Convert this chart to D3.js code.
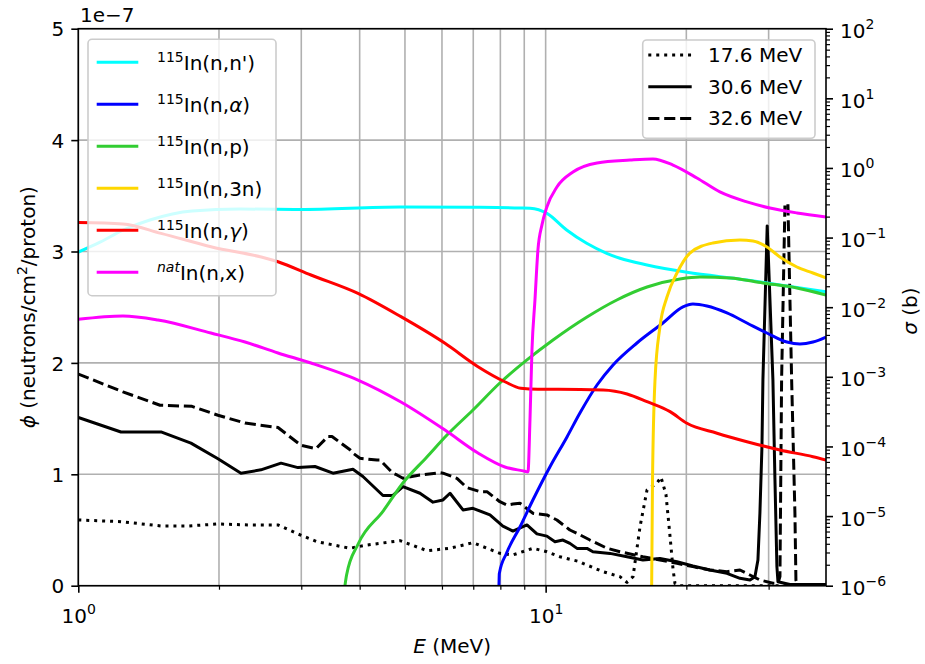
<!DOCTYPE html>
<html>
<head>
<meta charset="utf-8">
<script src="https://cdn.jsdelivr.net/npm/d3@7"></script>
<style>
  body { margin: 0; background: #fff; }
  svg { display: block; }
  text { font-family: "DejaVu Sans", sans-serif; fill: #000; }
</style>
</head>
<body>
<svg id="chart" width="925" height="664"></svg>
<script>
// Neutron flux spectra, [E (MeV), phi in units of 1e-7 neutrons/cm^2/proton]
const flux17_6 = [[1.0,0.59],[1.234,0.575],[1.503,0.536],[1.717,0.536],[1.99,0.554],[2.33,0.545],[2.675,0.545],[2.952,0.464],[3.241,0.395],[3.814,0.336],[4.147,0.365],[4.88,0.404],[5.574,0.314],[6.243,0.336],[6.99,0.386],[7.98,0.291],[8.51,0.276],[9.394,0.336],[10.06,0.305],[10.73,0.26],[11.84,0.215],[12.02,0.2],[13.27,0.126],[14.42,0.081],[14.93,0.03],[15.38,0.081],[15.92,0.53],[16.48,0.86],[17.3,0.92],[17.65,0.975],[18.09,0.82],[18.45,0.45],[18.73,0.15],[18.91,0.02],[19.4,0.0],[39.8,0.0]];

const flux30_6 = [[1.0,1.51],[1.234,1.38],[1.503,1.38],[1.742,1.28],[1.99,1.14],[2.229,1.01],[2.459,1.04],[2.715,1.1],[2.951,1.06],[3.209,1.07],[3.507,1.01],[3.87,1.045],[4.065,0.98],[4.486,0.81],[4.713,0.81],[4.951,0.89],[5.384,0.83],[5.741,0.75],[6.03,0.77],[6.243,0.83],[6.655,0.68],[6.99,0.695],[7.6,0.635],[8.1,0.535],[8.51,0.49],[9.12,0.545],[9.58,0.465],[10.06,0.445],[10.47,0.395],[10.89,0.41],[11.27,0.38],[11.67,0.335],[12.26,0.335],[12.62,0.305],[13.73,0.29],[14.93,0.26],[16.15,0.23],[17.56,0.245],[19.1,0.215],[20.66,0.177],[22.46,0.141],[24.43,0.111],[26.05,0.066],[27.36,0.051],[28.04,0.081],[28.46,0.231],[28.74,0.653],[29.03,1.25],[29.17,1.85],[29.79,3.23],[30.64,1.85],[30.95,0.95],[31.25,0.17],[31.41,0.036],[33.32,0.011],[39.8,0.011]];

const flux32_6 = [[1.0,1.9],[1.246,1.74],[1.496,1.62],[1.751,1.61],[1.99,1.53],[2.274,1.46],[2.675,1.42],[2.996,1.26],[3.225,1.23],[3.421,1.34],[3.49,1.34],[3.814,1.22],[3.87,1.19],[4.006,1.144],[4.356,1.128],[4.421,1.128],[4.713,1.01],[4.806,0.994],[4.951,0.964],[5.384,0.994],[5.942,1.014],[6.03,1.01],[6.334,0.978],[6.46,0.964],[6.785,0.88],[7.235,0.844],[7.489,0.844],[7.98,0.754],[8.265,0.724],[8.51,0.733],[8.811,0.74],[9.394,0.65],[10.06,0.635],[10.57,0.59],[11.27,0.5],[11.67,0.47],[12.44,0.41],[13.53,0.336],[14.42,0.305],[14.93,0.291],[16.15,0.26],[17.56,0.231],[19.1,0.201],[20.66,0.171],[22.46,0.141],[24.43,0.126],[26.05,0.141],[27.36,0.096],[28.74,0.051],[30.64,0.022],[31.41,0.022],[31.72,0.081],[31.98,1.85],[32.51,3.42],[32.99,3.43],[33.6,1.85],[34.15,0.65],[34.32,0.05],[34.6,0.011],[39.8,0.011]];

// Cross sections, [E (MeV), sigma (b)]
const xsInelastic = [[1.0,0.062],[1.113,0.086],[1.246,0.128],[1.423,0.179],[1.752,0.241],[2.218,0.257],[2.982,0.254],[4.88,0.275],[7.06,0.272],[8.81,0.266],[9.26,0.263],[10.06,0.223],[11.09,0.1285],[12.24,0.0827],[13.51,0.0594],[14.42,0.0504],[16.48,0.0404],[20.06,0.0317],[26.96,0.0246],[31.72,0.0208],[39.8,0.0167]];

const xsAlpha = [[7.945,1.0e-6],[7.96,1.5e-6],[8.25,2.95e-6],[8.81,6.97e-6],[9.39,1.7e-5],[10.21,5.07e-5],[11.11,1.37e-4],[11.84,3.02e-4],[12.88,7.63e-4],[13.94,1.48e-3],[15.68,3.06e-3],[17.82,5.93e-3],[19.67,1.01e-2],[20.66,1.11e-2],[22.14,1.04e-2],[24.43,8.26e-3],[26.96,5.93e-3],[29.75,4.26e-3],[32.83,3.16e-3],[35.0,2.96e-3],[37.32,3.16e-3],[39.8,3.73e-3]];

const xsProton = [[3.72,1.0e-6],[3.75,1.42e-6],[3.97,3.97e-6],[4.49,1.18e-5],[4.95,2.99e-5],[5.57,7.05e-5],[6.15,1.46e-4],[6.99,3.34e-4],[7.98,8.15e-4],[9.12,1.75e-3],[10.37,3.38e-3],[12.26,7.23e-3],[14.2,1.27e-2],[16.48,1.95e-2],[19.38,2.54e-2],[21.39,2.71e-2],[24.8,2.63e-2],[29.17,2.23e-2],[34.49,1.89e-2],[39.8,1.5e-2]];

const xs3n = [[16.86,1.0e-6],[16.93,3.3e-5],[17.14,9.0e-4],[17.56,5.2e-3],[18.18,1.4e-2],[19.1,3.1e-2],[20.36,6.0e-2],[22.8,8.35e-2],[26.05,9.23e-2],[27.77,8.93e-2],[29.75,7.33e-2],[31.72,5.26e-2],[34.49,3.78e-2],[37.32,3.1e-2],[39.8,2.63e-2]];

const xsGamma = [[1.0,0.164],[1.246,0.157],[1.503,0.115],[1.922,0.0739],[2.675,0.045],[3.147,0.029],[3.967,0.0158],[4.902,7.31e-3],[6.09,3.03e-3],[7.165,1.4e-3],[8.18,8.5e-4],[8.85,6.84e-4],[9.627,6.62e-4],[10.62,6.62e-4],[13.27,6.47e-4],[14.94,5.67e-4],[16.48,4.39e-4],[18.46,3.16e-4],[20.06,2.15e-4],[23.26,1.55e-4],[26.96,1.17e-4],[31.72,8.89e-5],[37.33,7.12e-5],[39.8,6.39e-5]];

const xsNatural = [[1.0,6.7e-3],[1.246,7.48e-3],[1.481,6.55e-3],[1.922,4.26e-3],[2.274,3.16e-3],[2.675,2.2e-3],[3.147,1.58e-3],[3.967,9.0e-4],[4.902,4.35e-4],[6.09,1.72e-4],[7.165,8.05e-5],[8.18,5.07e-5],[9.03,4.4e-5],[9.166,4.3e-5],[9.257,2.4e-4],[9.348,2.43e-3],[9.487,1.27e-2],[9.627,6.64e-2],[9.82,0.152],[10.06,0.275],[10.57,0.533],[11.44,0.875],[12.88,1.18],[15.15,1.3],[16.97,1.35],[18.73,1.1],[21.07,0.718],[23.6,0.452],[26.96,0.325],[30.19,0.266],[34.49,0.226],[39.8,0.198]];

// Axis ticks
const xMajorTicks = [1, 10];
const xMinorTicks = [2, 3, 4, 5, 6, 7, 8, 9, 20, 30];
const fluxTicks = [0, 1, 2, 3, 4, 5];
const sigmaExponents = [-6, -5, -4, -3, -2, -1, 0, 1, 2];

// Series definitions built from the arrays above
const fluxSeries = [
  { label: "17.6 MeV", data: flux17_6, dash: "3,4.95" },
  { label: "30.6 MeV", data: flux30_6, dash: null },
  { label: "32.6 MeV", data: flux32_6, dash: "11.1,4.8" }
];
const xsSeries = [
  { sup: "115", supItalic: false, parts: ["In(n,n')"], color: "#00ffff", data: xsInelastic },
  { sup: "115", supItalic: false, parts: ["In(n,", {it: "α"}, ")"], color: "#0000ff", data: xsAlpha },
  { sup: "115", supItalic: false, parts: ["In(n,p)"], color: "#32cd32", data: xsProton },
  { sup: "115", supItalic: false, parts: ["In(n,3n)"], color: "#ffd700", data: xs3n },
  { sup: "115", supItalic: false, parts: ["In(n,", {it: "γ"}, ")"], color: "#ff0000", data: xsGamma },
  { sup: "nat", supItalic: true, parts: ["In(n,x)"], color: "#ff00ff", data: xsNatural }
];

const plot = { left: 78.3, right: 826, top: 28.7, bottom: 585.7 };
const FONT = 20, SUPFONT = 14;
const svg = d3.select("#chart");

const x = d3.scaleLog().domain([1, 39.8]).range([plot.left, plot.right]);
const yFlux = d3.scaleLinear().domain([0, 5]).range([plot.bottom, plot.top]);
const ySigma = d3.scaleLog().domain([1e-6, 1e2]).range([plot.bottom, plot.top]);

svg.append("defs").append("clipPath").attr("id", "plotClip")
  .append("rect")
  .attr("x", plot.left).attr("y", plot.top)
  .attr("width", plot.right - plot.left).attr("height", plot.bottom - plot.top);

// Grid
const grid = svg.append("g").attr("stroke", "#b0b0b0").attr("stroke-width", 1.6);
grid.selectAll("line.v").data(xMajorTicks.concat(xMinorTicks)).join("line")
  .attr("x1", d => x(d)).attr("x2", d => x(d))
  .attr("y1", plot.top).attr("y2", plot.bottom);
grid.selectAll("line.h").data(fluxTicks).join("line")
  .attr("x1", plot.left).attr("x2", plot.right)
  .attr("y1", d => yFlux(d)).attr("y2", d => yFlux(d));

// Flux lines (left axis)
const fluxLine = d3.line().x(d => x(d[0])).y(d => yFlux(d[1]));
const fluxG = svg.append("g").attr("clip-path", "url(#plotClip)");
fluxSeries.forEach(s => {
  fluxG.append("path").datum(s.data)
    .attr("d", fluxLine)
    .attr("fill", "none").attr("stroke", "#000").attr("stroke-width", 3)
    .attr("stroke-linejoin", "round")
    .attr("stroke-dasharray", s.dash);
});

// Cross-section lines (right axis)
const xsLine = d3.line().x(d => x(d[0])).y(d => ySigma(d[1])).curve(d3.curveMonotoneX);
const xsG = svg.append("g").attr("clip-path", "url(#plotClip)");
xsSeries.forEach(s => {
  xsG.append("path").datum(s.data)
    .attr("d", xsLine)
    .attr("fill", "none").attr("stroke", s.color).attr("stroke-width", 3)
    .attr("stroke-linejoin", "round");
});

// Axes
function styleAxis(g) {
  g.select(".domain").remove();
  g.selectAll(".tick line").attr("stroke", "#000").attr("stroke-width", 1.6);
  g.selectAll(".tick text").attr("font-family", "DejaVu Sans").attr("font-size", FONT).attr("fill", "#000");
}
function powerLabel(sel, expOf) {
  sel.each(function(d) {
    const t = d3.select(this);
    t.text(null);
    t.append("tspan").text("10");
    t.append("tspan").attr("font-size", SUPFONT).attr("dy", -9).text(String(expOf(d)).replace("-", "\u2212"));
  });
}

const xAxisMajor = svg.append("g").attr("transform", `translate(0,${plot.bottom})`)
  .call(d3.axisBottom(x).tickValues(xMajorTicks).tickSize(7).tickSizeOuter(0).tickPadding(7));
styleAxis(xAxisMajor);
xAxisMajor.selectAll(".tick text").attr("dy", null).attr("y", 37.3).call(powerLabel, d => Math.round(Math.log10(d)));

const xAxisMinor = svg.append("g").attr("transform", `translate(0,${plot.bottom})`)
  .call(d3.axisBottom(x).tickValues(xMinorTicks).tickSize(4).tickSizeOuter(0).tickFormat(() => ""));
styleAxis(xAxisMinor);
xAxisMinor.selectAll(".tick line").attr("stroke-width", 1.2);

const yAxisLeft = svg.append("g").attr("transform", `translate(${plot.left},0)`)
  .call(d3.axisLeft(yFlux).tickValues(fluxTicks).tickSize(7).tickSizeOuter(0).tickPadding(7).tickFormat(d3.format("d")));
styleAxis(yAxisLeft);
yAxisLeft.selectAll(".tick text").attr("dy", "0.36em");

const yAxisRight = svg.append("g").attr("transform", `translate(${plot.right},0)`)
  .call(d3.axisRight(ySigma).tickValues(sigmaExponents.map(e => Math.pow(10, e))).tickSize(7).tickSizeOuter(0).tickPadding(7));
styleAxis(yAxisRight);
yAxisRight.selectAll(".tick text").attr("dy", null).attr("y", 9).call(powerLabel, d => Math.round(Math.log10(d)));

const sigmaMinor = [];
sigmaExponents.slice(0, -1).forEach(e => { for (let m = 2; m <= 9; m++) sigmaMinor.push(m * Math.pow(10, e)); });
const yAxisRightMinor = svg.append("g").attr("transform", `translate(${plot.right},0)`)
  .call(d3.axisRight(ySigma).tickValues(sigmaMinor).tickSize(4).tickSizeOuter(0).tickFormat(() => ""));
styleAxis(yAxisRightMinor);
yAxisRightMinor.selectAll(".tick line").attr("stroke-width", 1.2);

// Spines
svg.append("rect")
  .attr("x", plot.left).attr("y", plot.top)
  .attr("width", plot.right - plot.left).attr("height", plot.bottom - plot.top)
  .attr("fill", "none").attr("stroke", "#000").attr("stroke-width", 1.6);

// Offset text and axis labels
svg.append("text").attr("x", 80).attr("y", 21.5).attr("font-size", FONT).text("1e\u22127");

const xl = svg.append("text").attr("x", (plot.left + plot.right) / 2).attr("y", 653)
  .attr("text-anchor", "middle").attr("font-size", FONT);
xl.append("tspan").attr("font-style", "italic").text("E");
xl.append("tspan").text(" (MeV)");

const yl = svg.append("text")
  .attr("transform", `translate(35,${(plot.top + plot.bottom) / 2}) rotate(-90)`)
  .attr("text-anchor", "middle").attr("font-size", FONT);
yl.append("tspan").attr("font-style", "italic").text("ϕ");
yl.append("tspan").text(" (neutrons/cm");
yl.append("tspan").attr("font-size", SUPFONT).attr("dy", -8).text("2");
yl.append("tspan").attr("dy", 8).text("/proton)");

const yr = svg.append("text")
  .attr("transform", `translate(917,${(plot.top + plot.bottom) / 2 + 4}) rotate(-90)`)
  .attr("text-anchor", "middle").attr("font-size", FONT);
yr.append("tspan").attr("font-style", "italic").text("σ");
yr.append("tspan").text(" (b)");

// Legend: cross sections
const legL = svg.append("g");
legL.append("rect").attr("x", 88).attr("y", 39.3).attr("width", 188).attr("height", 256.4)
  .attr("rx", 4).attr("fill", "#fff").attr("fill-opacity", 0.8)
  .attr("stroke", "#cccccc").attr("stroke-width", 1.6);
xsSeries.forEach((s, i) => {
  const cy = 62.3 + i * 42;
  legL.append("line").attr("x1", 96.7).attr("x2", 138.3).attr("y1", cy).attr("y2", cy)
    .attr("stroke", s.color).attr("stroke-width", 3);
  const t = legL.append("text").attr("x", 157).attr("y", cy + 7.5).attr("font-size", FONT);
  t.append("tspan").attr("font-size", SUPFONT).attr("dy", -8)
    .attr("font-style", s.supItalic ? "italic" : null).text(s.sup);
  let first = true;
  s.parts.forEach(p => {
    const sp = t.append("tspan");
    if (first) { sp.attr("dy", 8); first = false; }
    if (typeof p === "string") sp.text(p);
    else sp.attr("font-style", "italic").text(p.it);
  });
});

// Legend: flux spectra
const legR = svg.append("g");
legR.append("rect").attr("x", 642.7).attr("y", 40).attr("width", 172.3).attr("height", 98.3)
  .attr("rx", 4).attr("fill", "#fff").attr("fill-opacity", 0.8)
  .attr("stroke", "#cccccc").attr("stroke-width", 1.6);
fluxSeries.forEach((s, i) => {
  const cy = 55 + i * 31.7;
  legR.append("line").attr("x1", 648.3).attr("x2", 691.7).attr("y1", cy).attr("y2", cy)
    .attr("stroke", "#000").attr("stroke-width", 3).attr("stroke-dasharray", s.dash);
  legR.append("text").attr("x", 708).attr("y", cy + 7).attr("font-size", FONT).text(s.label);
});
</script>
</body>
</html>
